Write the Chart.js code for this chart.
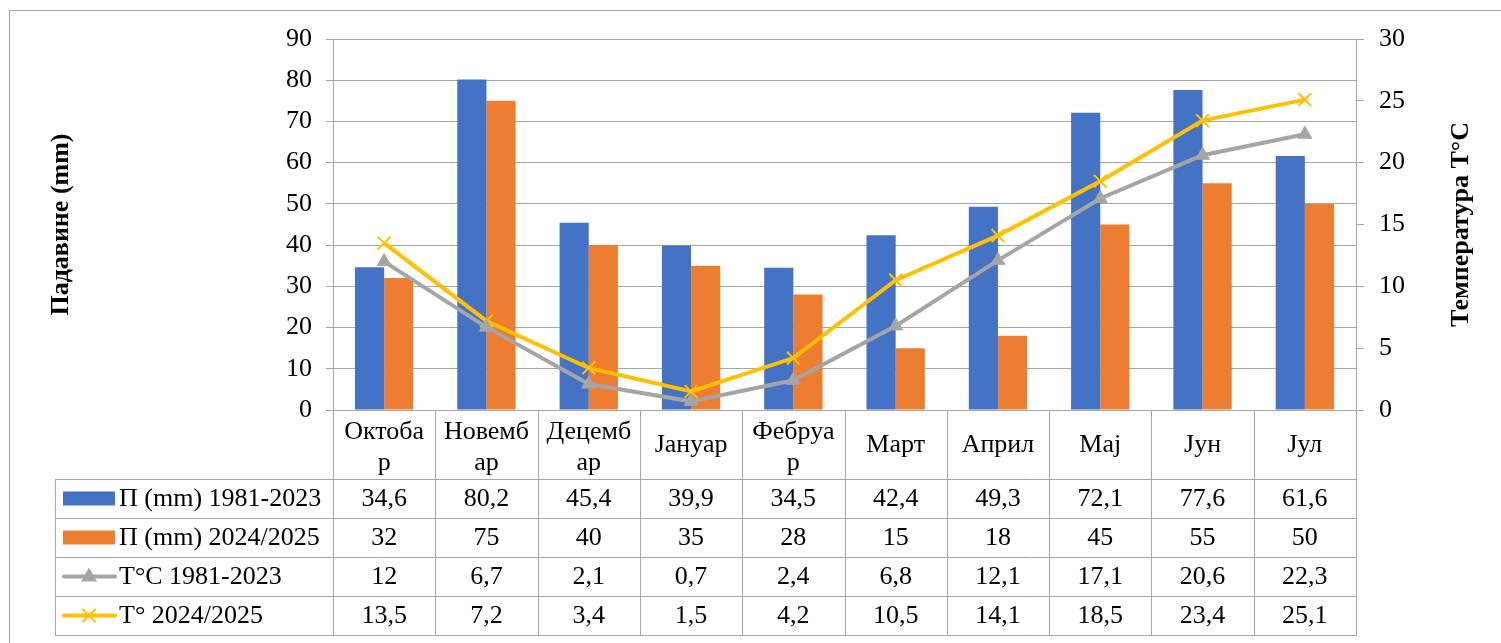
<!DOCTYPE html>
<html>
<head>
<meta charset="utf-8">
<script src="https://cdn.jsdelivr.net/npm/chart.js@4.4.1/dist/chart.umd.min.js"></script>
<style>
  body { margin: 0; background: #fff; }
  #wrap { width: 1501px; height: 643px; position: relative; }
</style>
</head>
<body>
<div id="wrap"><canvas id="climateChart"></canvas></div>
<script>
const months = [['Октоба', 'р'], ['Новемб', 'ар'], ['Децемб', 'ар'], ['Јануар'], ['Фебруа', 'р'],
    ['Март'], ['Април'], ['Мај'], ['Јун'], ['Јул']];
const rainNormal = [34.6, 80.2, 45.4, 39.9, 34.5, 42.4, 49.3, 72.1, 77.6, 61.6];
const rainSeason = [32, 75, 40, 35, 28, 15, 18, 45, 55, 50];
const tempNormal = [12, 6.7, 2.1, 0.7, 2.4, 6.8, 12.1, 17.1, 20.6, 22.3];
const tempSeason = [13.5, 7.2, 3.4, 1.5, 4.2, 10.5, 14.1, 18.5, 23.4, 25.1];
const seriesNames = ['П (mm) 1981-2023', 'П (mm) 2024/2025', 'T°C 1981-2023', 'T° 2024/2025'];
const rainTicks = [0, 10, 20, 30, 40, 50, 60, 70, 80, 90];
const tempTicks = [0, 5, 10, 15, 20, 25, 30];

const gridColor = '#a6a6a6';
const serif = '"Liberation Serif", "Times New Roman", serif';
const colors = ['#4472c4', '#ed7d31', '#a5a5a5', '#ffc000'];

function fmt(v) {
    return String(v).replace('.', ',');
}

// data table + axis titles + outer frame drawn under the plot
const tablePlugin = {
    id: 'dataTable',
    afterDraw(chart) {
        const ctx = chart.ctx;
        const area = chart.chartArea;
        const x = chart.scales.x;
        const n = months.length;
        const colW = (area.right - area.left) / n;
        const tableLeft = 55;
        const headBottom = area.bottom + 69;
        const rowH = 39;
        const rows = [rainNormal, rainSeason, tempNormal, tempSeason];
        const tableBottom = headBottom + rowH * rows.length;

        ctx.save();
        ctx.strokeStyle = gridColor;
        ctx.lineWidth = 1;

        // outer frame
        ctx.strokeRect(9.5, 10.5, 1520, 660);

        ctx.beginPath();
        // vertical lines in the header + body
        for (let i = 0; i <= n; i++) {
            const px = Math.round(area.left + i * colW) + 0.5;
            ctx.moveTo(px, area.bottom);
            ctx.lineTo(px, tableBottom);
        }
        ctx.moveTo(tableLeft + 0.5, headBottom);
        ctx.lineTo(tableLeft + 0.5, tableBottom);
        // horizontal lines
        for (let r = 0; r <= rows.length; r++) {
            const py = headBottom + r * rowH + 0.5;
            ctx.moveTo(tableLeft, py);
            ctx.lineTo(area.right + 1, py);
        }
        ctx.stroke();

        ctx.fillStyle = '#000';
        ctx.font = '26px ' + serif;
        ctx.textAlign = 'center';
        ctx.textBaseline = 'middle';

        // month headers
        months.forEach((m, i) => {
            const cx = x.getPixelForValue(i);
            const mid = area.bottom + 35;
            if (m.length === 1) {
                ctx.fillText(m[0], cx, mid);
            } else {
                ctx.fillText(m[0], cx, mid - 13);
                ctx.fillText(m[1], cx, mid + 18);
            }
        });

        // values
        rows.forEach((vals, r) => {
            const cy = headBottom + r * rowH + rowH / 2 + 1;
            vals.forEach((v, i) => {
                ctx.fillText(fmt(v), x.getPixelForValue(i), cy);
            });
        });

        // legend keys
        ctx.textAlign = 'left';
        seriesNames.forEach((name, r) => {
            const cy = headBottom + r * rowH + rowH / 2;
            if (r < 2) {
                ctx.fillStyle = colors[r];
                ctx.fillRect(63, cy - 7, 52, 14);
            } else {
                ctx.strokeStyle = colors[r];
                ctx.lineWidth = 4;
                ctx.lineCap = 'round';
                ctx.beginPath();
                ctx.moveTo(64, cy);
                ctx.lineTo(115, cy);
                ctx.stroke();
                if (r === 2) {
                    ctx.fillStyle = colors[r];
                    ctx.beginPath();
                    ctx.moveTo(89, cy - 9);
                    ctx.lineTo(97, cy + 5);
                    ctx.lineTo(81, cy + 5);
                    ctx.closePath();
                    ctx.fill();
                } else {
                    ctx.lineWidth = 2;
                    ctx.beginPath();
                    ctx.moveTo(83, cy - 6);
                    ctx.lineTo(95, cy + 6);
                    ctx.moveTo(95, cy - 6);
                    ctx.lineTo(83, cy + 6);
                    ctx.stroke();
                }
            }
            ctx.fillStyle = '#000';
            ctx.fillText(name, 119, cy + 1);
        });

        // axis titles
        const midY = (area.top + area.bottom) / 2;
        ctx.font = 'bold 26px ' + serif;
        ctx.textAlign = 'center';
        ctx.save();
        ctx.translate(61, midY);
        ctx.rotate(-Math.PI / 2);
        ctx.fillText('Падавине (mm)', 0, 0);
        ctx.restore();
        ctx.save();
        ctx.translate(1461, midY);
        ctx.rotate(-Math.PI / 2);
        ctx.fillText('Температура T°C', 0, 0);
        ctx.restore();

        ctx.restore();
    }
};

const ctx = document.getElementById('climateChart').getContext('2d');
const chart = new Chart(ctx, {
    type: 'bar',
    data: {
        labels: months,
        datasets: [
            {
                label: seriesNames[0],
                data: rainNormal,
                backgroundColor: colors[0],
                yAxisID: 'y',
                order: 1
            },
            {
                label: seriesNames[1],
                data: rainSeason,
                backgroundColor: colors[1],
                yAxisID: 'y',
                order: 1
            },
            {
                type: 'line',
                label: seriesNames[2],
                data: tempNormal,
                borderColor: colors[2],
                backgroundColor: colors[2],
                borderWidth: 4,
                pointStyle: 'triangle',
                pointRadius: 8,
                pointBorderWidth: 1,
                tension: 0,
                yAxisID: 'y1',
                order: 0
            },
            {
                type: 'line',
                label: seriesNames[3],
                data: tempSeason,
                borderColor: colors[3],
                backgroundColor: colors[3],
                borderWidth: 4,
                pointStyle: 'crossRot',
                pointRadius: 9,
                pointBorderWidth: 2,
                tension: 0,
                yAxisID: 'y1',
                order: 0
            }
        ]
    },
    options: {
        responsive: true,
        maintainAspectRatio: false,
        animation: false,
        layout: { padding: { top: 39, bottom: 233, left: 0, right: 0 } },
        datasets: {
            bar: { barPercentage: 1, categoryPercentage: 0.57 }
        },
        plugins: {
            legend: { display: false },
            tooltip: { enabled: false }
        },
        scales: {
            x: {
                display: false
            },
            y: {
                position: 'left',
                min: 0,
                max: 90,
                afterBuildTicks(scale) {
                    scale.ticks = rainTicks.map(v => ({ value: v }));
                },
                afterFit(scale) { scale.width = 333; },
                grid: { color: gridColor, tickLength: 7, lineWidth: 1 },
                border: { display: true, color: gridColor },
                ticks: {
                    color: '#000',
                    padding: 14,
                    font: { family: serif, size: 26 }
                }
            },
            y1: {
                position: 'right',
                min: 0,
                max: 30,
                afterBuildTicks(scale) {
                    scale.ticks = tempTicks.map(v => ({ value: v }));
                },
                afterFit(scale) { scale.width = 145; },
                grid: { drawOnChartArea: false, color: gridColor, tickLength: 8 },
                border: { display: true, color: gridColor },
                ticks: {
                    color: '#000',
                    padding: 15,
                    font: { family: serif, size: 26 }
                }
            }
        }
    },
    plugins: [tablePlugin]
});
</script>
</body>
</html>
